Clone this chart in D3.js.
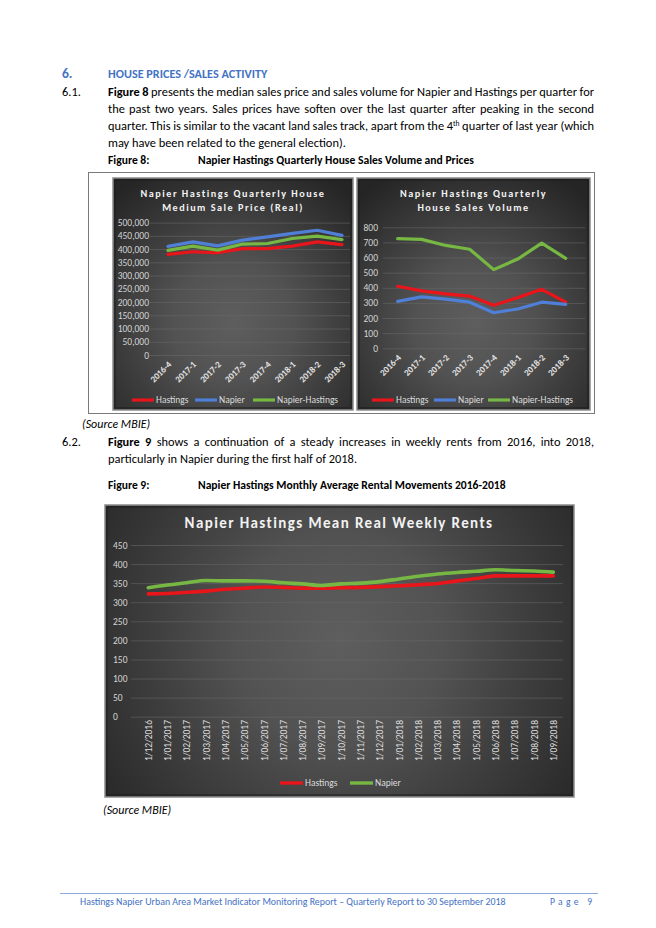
<!DOCTYPE html>
<html><head><meta charset="utf-8">
<script src="https://cdn.jsdelivr.net/npm/d3@7"></script>
<style>
html,body{margin:0;padding:0;background:#fff;}
svg{display:block;}
</style></head><body>
<svg id="page" width="656" height="928"></svg>
<script>
// ---------- DATA ----------
const quarters = ["2016-4","2017-1","2017-2","2017-3","2017-4","2018-1","2018-2","2018-3"];
const priceHastings       = [380000,390000,386000,402000,402000,411000,427000,417000];
const priceNapier         = [410000,427000,412000,434000,446000,459000,471000,452000];
const priceNapierHastings = [395000,411000,396000,419000,421000,440000,449000,436000];
const volHastings         = [410,380,360,345,285,335,390,305];
const volNapier           = [310,340,325,305,235,260,305,290];
const volNapierHastings   = [725,720,680,655,520,590,695,595];
const priceTicks = [0,50000,100000,150000,200000,250000,300000,350000,400000,450000,500000];
const volTicks   = [0,100,200,300,400,500,600,700,800];
const months = ["1/12/2016","1/01/2017","1/02/2017","1/03/2017","1/04/2017","1/05/2017","1/06/2017","1/07/2017","1/08/2017","1/09/2017","1/10/2017","1/11/2017","1/12/2017","1/01/2018","1/02/2018","1/03/2018","1/04/2018","1/05/2018","1/06/2018","1/07/2018","1/08/2018","1/09/2018"];
const rentHastings = [322,323,326,329,334,337,340,339,337,337,338,339,341,343,346,349,356,362,369,369,369,369];
const rentNapier   = [338,345,351,357,356,356,355,351,348,344,348,350,354,361,368,374,378,381,385,383,382,379];
const rentTicks = [0,50,100,150,200,250,300,350,400,450];
const seriesNames3 = ["Hastings","Napier","Napier-Hastings"];
const seriesNames2 = ["Hastings","Napier"];

// ---------- STYLE ----------
const FONT = "Carlito, Lato, 'Open Sans', sans-serif";
const RED = "#e8151b", BLUE = "#4f7fd6", GREEN = "#76b843";
const colors3 = [RED, BLUE, GREEN];
const BLUE_TXT = "#4472c4";
const BODY = 12.4;

const svg = d3.select("#page").attr("font-family", FONT);
const defs = svg.append("defs");
function makeGrad(id, cx, cy, r){
  const g = defs.append("radialGradient").attr("id", id)
    .attr("gradientUnits","userSpaceOnUse").attr("cx",cx).attr("cy",cy).attr("r",r);
  [[0,"#5e5e5e"],[0.35,"#525252"],[0.6,"#404040"],[0.85,"#2f2f2f"],[1,"#252525"]]
    .forEach(([o,c]) => g.append("stop").attr("offset",o).attr("stop-color",c));
}
function panel(x,y,w,h,gid){
  svg.append("rect").attr("x",x).attr("y",y).attr("width",w).attr("height",h)
    .attr("fill",`url(#${gid})`).attr("stroke","#8c8c8c").attr("stroke-width",1.5);
  svg.append("rect").attr("x",x+2).attr("y",y+2).attr("width",w-4).attr("height",h-4)
    .attr("fill","none").attr("stroke","#1c1c1c").attr("stroke-width",1);
}

// ---------- PAGE TEXT ----------
const page = svg.append("g").attr("fill","#000");
function jline(x, y, width, parts, justify, size){
  const t = page.append("text").attr("x",x).attr("y",y).attr("font-size",size||BODY);
  let plain = "";
  parts.forEach(p => {
    const ts = t.append("tspan").text(p.t);
    plain += p.t;
    if (p.b) ts.attr("font-weight","bold");
    if (p.sup) ts.attr("font-size",7.5).attr("dy",-4.5);
    if (p.after) ts.attr("dy",4.5);
  });
  if (justify){
    const w = t.node().getComputedTextLength();
    const n = (plain.match(/ /g)||[]).length;
    t.style("word-spacing", ((width - w)/n) + "px");
  }
  return t;
}
page.append("text").attr("x",62).attr("y",77.5).attr("font-size",13.5).attr("font-weight","bold")
  .attr("fill",BLUE_TXT).text("6.");
page.append("text").attr("x",108).attr("y",77.5).attr("font-size",12.2).attr("font-weight","bold")
  .attr("fill",BLUE_TXT).text("HOUSE PRICES /SALES ACTIVITY");
page.append("text").attr("x",62).attr("y",96).attr("font-size",BODY).text("6.1.");
jline(108,96,486,[{t:"Figure 8",b:true},{t:" presents the median sales price and sales volume for Napier and Hastings per quarter for"}],true);
jline(108,113,486,[{t:"the past two years. Sales prices have soften over the last quarter after peaking in the second"}],true);
jline(108,130,486,[{t:"quarter.  This is similar to the vacant land sales track, apart from the 4"},{t:"th",sup:true},{t:" quarter of last year (which",after:true}],true);
jline(108,146.5,486,[{t:"may have been related to the general election)."}],false);
page.append("text").attr("x",108).attr("y",164).attr("font-size",11.6).attr("font-weight","bold").text("Figure 8:");
page.append("text").attr("x",198).attr("y",164).attr("font-size",11.6).attr("font-weight","bold").text("Napier Hastings Quarterly House Sales Volume and Prices");
svg.append("rect").attr("x",88.5).attr("y",172.5).attr("width",506).attr("height",241)
  .attr("fill","none").attr("stroke","#7a7a7a").attr("stroke-width",1);
page.append("text").attr("x",82).attr("y",428).attr("font-size",12).attr("font-style","italic").text("(Source MBIE)");
page.append("text").attr("x",62).attr("y",446).attr("font-size",BODY).text("6.2.");
jline(108,446,486,[{t:"Figure 9",b:true},{t:" shows a continuation of a steady increases in weekly rents from 2016, into 2018,"}],true);
jline(108,463,486,[{t:"particularly in Napier during the first half of 2018."}],false);
page.append("text").attr("x",108).attr("y",489).attr("font-size",11.6).attr("font-weight","bold").text("Figure 9:");
page.append("text").attr("x",198).attr("y",489).attr("font-size",11.6).attr("font-weight","bold").text("Napier Hastings Monthly Average Rental Movements 2016-2018");
page.append("text").attr("x",103).attr("y",814).attr("font-size",12).attr("font-style","italic").text("(Source MBIE)");
svg.append("line").attr("x1",60).attr("x2",598).attr("y1",893.5).attr("y2",893.5).attr("stroke","#8eaadb").attr("stroke-width",1);
page.append("text").attr("x",80).attr("y",905).attr("font-size",9.9).attr("fill",BLUE_TXT)
  .text("Hastings Napier Urban Area Market Indicator Monitoring Report \u2013 Quarterly Report to 30 September 2018");
page.append("text").attr("x",550).attr("y",905).attr("font-size",9.6).attr("fill",BLUE_TXT)
  .attr("letter-spacing","3.3px").text("Page 9");

// ---------- CHART HELPER ----------
function smallChart(opt){
  makeGrad(opt.gid, opt.px + opt.pw/2, opt.py + opt.ph*0.62, opt.pw*0.72);
  panel(opt.px, opt.py, opt.pw, opt.ph, opt.gid);
  const g = svg.append("g");
  const x = d3.scalePoint().domain(quarters).range(opt.xr);
  const y = d3.scaleLinear().domain([0, d3.max(opt.ticks)]).range(opt.yr);
  // title
  opt.title.forEach((t,i) => g.append("text").attr("x",opt.px+opt.pw/2).attr("y",opt.py+19+i*14)
    .attr("text-anchor","middle").attr("font-size",10.2).attr("font-weight","bold")
    .attr("letter-spacing","1.5px").attr("fill","#f2f2f2").text(t));
  // grid
  const grid = g.append("g").attr("transform",`translate(${opt.gx[1]},0)`)
    .call(d3.axisLeft(y).tickValues(opt.ticks).tickSize(opt.gx[1]-opt.gx[0]).tickFormat(""));
  grid.select(".domain").remove();
  grid.selectAll("line").attr("stroke","#6a6a6a").attr("stroke-opacity",0.55);
  // y labels
  const ya = g.append("g").attr("transform",`translate(${opt.labX},0)`)
    .call(d3.axisLeft(y).tickValues(opt.ticks).tickSize(0).tickPadding(0).tickFormat(opt.fmt));
  ya.select(".domain").remove();
  ya.selectAll("text").attr("fill","#d4d4d4").attr("font-size",9.5).attr("font-family",FONT);
  // x labels
  g.selectAll(".xl").data(quarters).join("text")
    .attr("transform", d => `translate(${x(d)+4},${opt.yr[0]+10}) rotate(-45)`)
    .attr("text-anchor","end").attr("font-size",9).attr("font-weight","bold")
    .attr("fill","#e2e2e2").text(d => d);
  // lines
  const line = d3.line().x((d,i) => x(quarters[i])).y(d => y(d));
  opt.series.forEach((s,k) => g.append("path").datum(s).attr("d",line)
    .attr("fill","none").attr("stroke",colors3[k]).attr("stroke-width",3.2)
    .attr("stroke-linejoin","round").attr("stroke-linecap","round"));
  // legend
  seriesNames3.forEach((n,k) => {
    const lx = opt.leg[k];
    g.append("line").attr("x1",lx).attr("x2",lx+22).attr("y1",400).attr("y2",400)
      .attr("stroke",colors3[k]).attr("stroke-width",3.2);
    g.append("text").attr("x",lx+24).attr("y",403.3).attr("font-size",9.5)
      .attr("fill","#dcdcdc").text(n);
  });
}

smallChart({gid:"g1", px:113, py:178, pw:240, ph:232,
  xr:[168,342], yr:[355,222.6], ticks:priceTicks, fmt:d3.format(","),
  gx:[150,350], labX:149,
  title:["Napier Hastings Quarterly House","Medium Sale Price (Real)"],
  series:[priceHastings, priceNapier, priceNapierHastings],
  leg:[132,195,253]});
smallChart({gid:"g2", px:357, py:178, pw:233, ph:232,
  xr:[397.7,565.7], yr:[348.3,227.3], ticks:volTicks, fmt:d3.format("d"),
  gx:[383,585], labX:378,
  title:["Napier Hastings Quarterly","House Sales Volume"],
  series:[volHastings, volNapier, volNapierHastings],
  leg:[372,434,488]});

// ---------- RENT CHART ----------
(function(){
  makeGrad("g3", 340, 640, 300);
  panel(105, 505, 469, 292, "g3");
  const g = svg.append("g");
  const x = d3.scalePoint().domain(months).range([148.3, 553.3]);
  const y = d3.scaleLinear().domain([0,450]).range([716.7, 545]);
  g.append("text").attr("x",339).attr("y",528).attr("text-anchor","middle")
    .attr("font-size",15).attr("font-weight","bold").attr("letter-spacing","1.4px")
    .attr("fill","#f2f2f2").text("Napier Hastings Mean Real Weekly Rents");
  const grid = g.append("g").attr("transform","translate(563,0)")
    .call(d3.axisLeft(y).tickValues(rentTicks).tickSize(563-131).tickFormat(""));
  grid.select(".domain").remove();
  grid.selectAll("line").attr("stroke","#6a6a6a").attr("stroke-opacity",0.55);
  const ya = g.append("g").attr("transform","translate(113,0)")
    .call(d3.axisLeft(y).tickValues(rentTicks).tickSize(0).tickPadding(0).tickFormat(d3.format("d")));
  ya.select(".domain").remove();
  ya.selectAll("text").attr("text-anchor","start").attr("fill","#d4d4d4")
    .attr("font-size",9.5).attr("font-family",FONT);
  g.selectAll(".ml").data(months).join("text")
    .attr("transform", d => `translate(${x(d)+3.5},720) rotate(-90)`)
    .attr("text-anchor","end").attr("font-size",9.5).attr("fill","#dedede").text(d => d);
  const line = d3.line().x((d,i) => x(months[i])).y(d => y(d)).curve(d3.curveMonotoneX);
  [[rentHastings,RED],[rentNapier,GREEN]].forEach(([s,c]) =>
    g.append("path").datum(s).attr("d",line).attr("fill","none").attr("stroke",c)
      .attr("stroke-width",3.6).attr("stroke-linecap","round"));
  const legX = [280, 350];
  seriesNames2.forEach((n,k) => {
    g.append("line").attr("x1",legX[k]).attr("x2",legX[k]+23).attr("y1",783).attr("y2",783)
      .attr("stroke",[RED,GREEN][k]).attr("stroke-width",3.4);
    g.append("text").attr("x",legX[k]+25).attr("y",786.3).attr("font-size",9.5)
      .attr("fill","#dcdcdc").text(n);
  });
})();
</script>
</body></html>
